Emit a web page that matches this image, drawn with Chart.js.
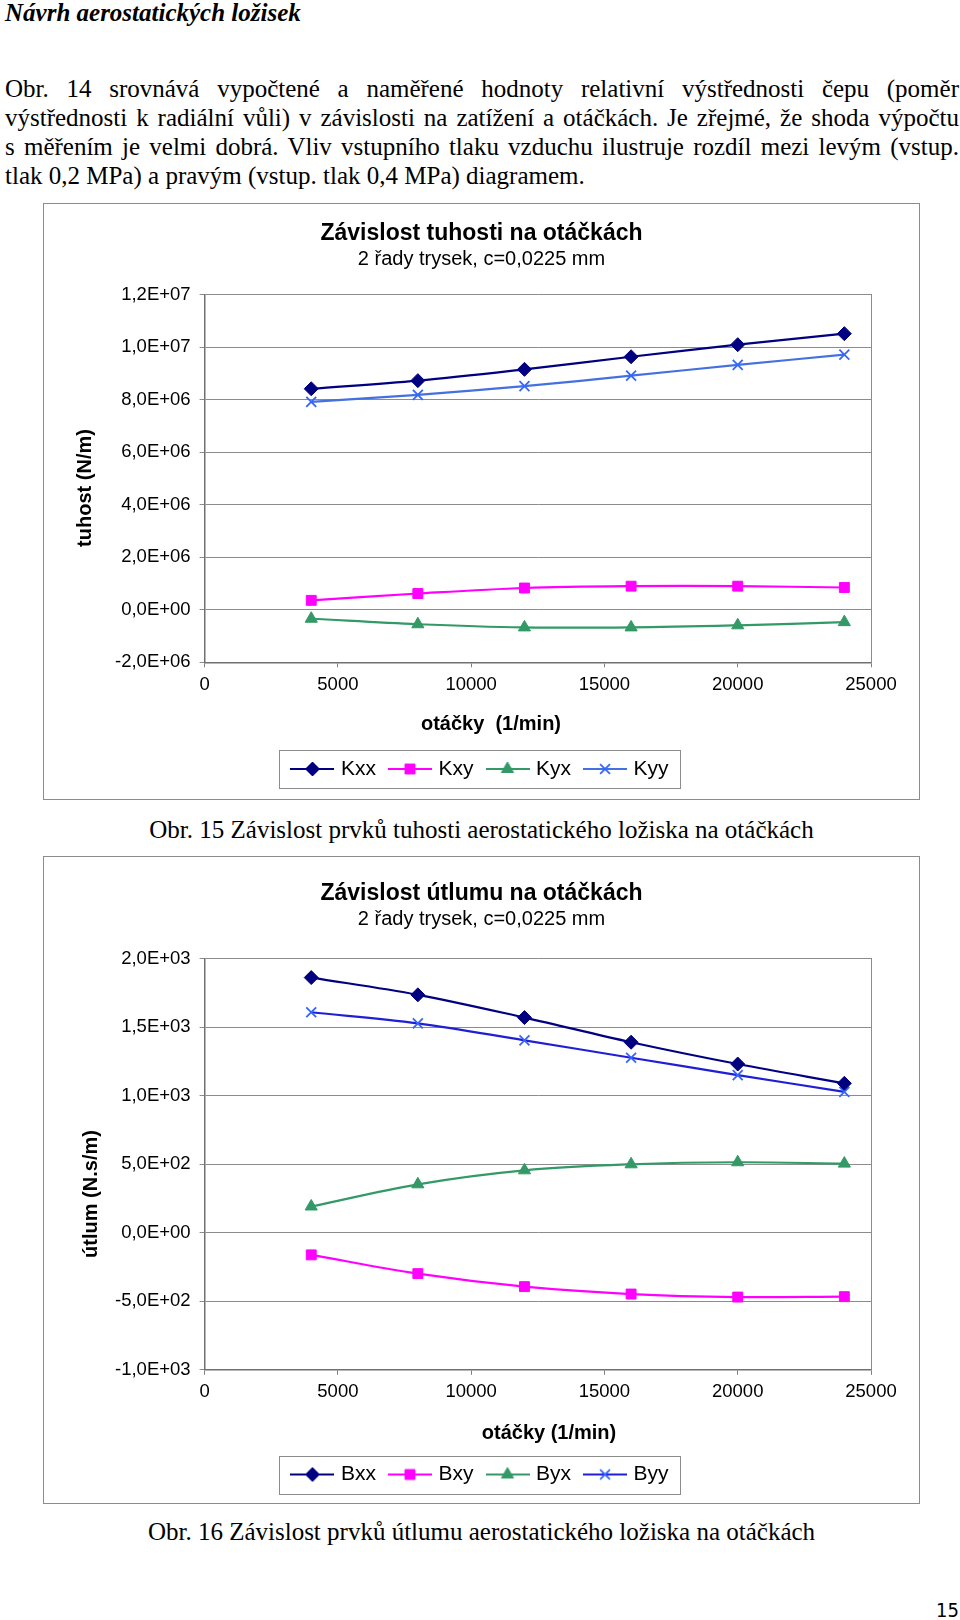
<!DOCTYPE html>
<html>
<head>
<meta charset="utf-8">
<title>Závislost tuhosti a útlumu na otáčkách</title>
<script src="https://cdn.jsdelivr.net/npm/chart.js"></script>
<style>
  body { margin: 0; width: 960px; height: 1620px; background: #fff; position: relative; overflow: hidden; }
  .serif { position: absolute; font-family: 'Liberation Serif', 'Times New Roman', serif; font-size: 25px; color: #000; }
  .line { left: 5px; width: 954px; line-height: 29px; text-align: justify; text-align-last: justify; }
  .caption { left: 43px; width: 877px; line-height: 29px; text-align: center; }
  .frame { position: absolute; border: 1px solid #8c8c8c; box-sizing: border-box; pointer-events: none; }
  .chart-container { position: absolute; }
</style>
</head>
<body>
  <div class="serif" style="left:5px; top:0px; line-height:25px; font-weight:bold; font-style:italic;">Návrh aerostatických ložisek</div>

  <div class="serif line" style="top:73.5px;">Obr. 14 srovnává vypočtené a naměřené hodnoty relativní výstřednosti čepu (poměr</div>
  <div class="serif line" style="top:102.5px;">výstřednosti k radiální vůli) v závislosti na zatížení a otáčkách. Je zřejmé, že shoda výpočtu</div>
  <div class="serif line" style="top:131.5px;">s měřením je velmi dobrá. Vliv vstupního tlaku vzduchu ilustruje rozdíl mezi levým (vstup.</div>
  <div class="serif line" style="top:160.5px; text-align-last:left;">tlak 0,2 MPa) a pravým (vstup. tlak 0,4 MPa) diagramem.</div>

  <div class="chart-container" style="left:43px; top:203px; width:877px; height:597px;">
    <canvas id="kChart"></canvas>
  </div>
  <div class="frame" style="left:43px; top:203px; width:877px; height:597px;"></div>
  <div class="serif caption" style="top:814.5px;">Obr. 15 Závislost prvků tuhosti aerostatického ložiska na otáčkách</div>

  <div class="chart-container" style="left:43px; top:856px; width:877px; height:648px;">
    <canvas id="bChart"></canvas>
  </div>
  <div class="frame" style="left:43px; top:856px; width:877px; height:648px;"></div>
  <div class="serif caption" style="top:1517px;">Obr. 16 Závislost prvků útlumu aerostatického ložiska na otáčkách</div>

  <div style="position:absolute; right:1px; top:1597px; font-family:'DejaVu Sans Condensed','Liberation Sans Narrow','Liberation Sans',sans-serif; font-size:20px; line-height:26px;">15</div>

<script type="text/javascript">

  // data
  var rpm = [4000, 8000, 12000, 16000, 20000, 24000];

  var kxx = [8.42e6, 8.73e6, 9.16e6, 9.64e6, 10.10e6, 10.52e6];
  var kxy = [0.36e6, 0.62e6, 0.83e6, 0.90e6, 0.90e6, 0.85e6];
  var kyx = [-0.34e6, -0.55e6, -0.67e6, -0.67e6, -0.59e6, -0.47e6];
  var kyy = [7.92e6, 8.19e6, 8.52e6, 8.92e6, 9.33e6, 9.72e6];

  var bxx = [1863, 1737, 1571, 1391, 1232, 1091];
  var bxy = [-161, -298, -393, -447, -469, -466];
  var byx = [192, 354, 456, 500, 515, 505];
  var byy = [1610, 1529, 1405, 1278, 1151, 1029];

  var kNames = ['Kxx', 'Kxy', 'Kyx', 'Kyy'];
  var bNames = ['Bxx', 'Bxy', 'Byx', 'Byy'];

  var xMin = 0, xMax = 25000, xStep = 5000;
  var kMin = -2e6, kMax = 1.2e7, kStep = 2e6;
  var bMin = -1000, bMax = 2000, bStep = 500;

  Chart.defaults.font.family = "'Liberation Sans', Arial, sans-serif";
  Chart.defaults.color = '#000';

  var markers = ['rectRot', 'rect', 'triangle', 'crossRot'];
  var markerSize = [7, 7, 7, 7];
  var fills = ['#000080', '#ff00ff', '#339966', '#3366ff'];

  // tick text like 1,2E+07
  function sci(v, step) {
    if (Math.abs(v) < step * 1e-6) return '0,0E+00';
    var e = Math.floor(Math.log10(Math.abs(v)) + 1e-9);
    var m = v / Math.pow(10, e);
    return m.toFixed(1).replace('.', ',') + 'E' + (e < 0 ? '-' : '+') + String(Math.abs(e)).padStart(2, '0');
  }

  function pairs(arr) {
    return arr.map(function (v, i) { return {x: rpm[i], y: v}; });
  }

  function makeSets(names, series, lineColors) {
    return series.map(function (s, i) {
      return {
        label: names[i],
        data: pairs(s),
        borderColor: lineColors[i],
        backgroundColor: fills[i],
        borderWidth: 2.2,
        pointStyle: markers[i],
        pointRadius: markerSize[i],
        pointHoverRadius: markerSize[i],
        pointBackgroundColor: fills[i],
        pointBorderColor: fills[i],
        pointBorderWidth: i == 3 ? 1.8 : 1,
        tension: 0.35
      };
    });
  }

  // small canvas used as legend symbol: line with marker
  function legendIcon(ds) {
    var c = document.createElement('canvas');
    c.width = 44; c.height = 20;
    var g = c.getContext('2d');
    g.strokeStyle = ds.borderColor;
    g.lineWidth = 2;
    g.beginPath(); g.moveTo(0, 10); g.lineTo(44, 10); g.stroke();
    g.fillStyle = ds.pointBackgroundColor;
    g.strokeStyle = ds.pointBorderColor;
    g.lineWidth = ds.pointBorderWidth;
    if (Chart.helpers && Chart.helpers.drawPoint) {
      Chart.helpers.drawPoint(g, {pointStyle: ds.pointStyle, radius: ds.pointRadius, borderWidth: ds.pointBorderWidth, rotation: 0}, 22, 10);
    } else {
      g.fillRect(17, 5, 10, 10);
    }
    return c;
  }

  function drawText(ctx, text, x, y, rot) {
    ctx.save();
    ctx.translate(x, y);
    ctx.rotate(rot);
    ctx.font = "bold 20px 'Liberation Sans', Arial, sans-serif";
    ctx.fillStyle = '#000';
    ctx.textAlign = 'center';
    ctx.textBaseline = 'middle';
    ctx.fillText(text, 0, 0);
    ctx.restore();
  }

  // legend frame + axis titles placed where the original has them
  var framePlugin = {
    id: 'frame',
    afterDraw: function (chart, args, opts) {
      var ctx = chart.ctx;
      var boxes = chart.legend ? chart.legend.legendHitBoxes : null;
      if (boxes && boxes.length) {
        var l = Math.min.apply(null, boxes.map(function (b) { return b.left; }));
        var r = Math.max.apply(null, boxes.map(function (b) { return b.left + b.width; }));
        var t = boxes[0].top, h = boxes[0].height;
        ctx.save();
        ctx.strokeStyle = '#8c8c8c';
        ctx.lineWidth = 1;
        ctx.strokeRect(Math.round(l - 15) + 0.5, Math.round(t - 8.5) + 0.5, Math.round(r - l + 27), Math.round(h + 17));
        ctx.restore();
      }
      if (opts.yTitle) drawText(ctx, opts.yTitle, opts.yTitleX, opts.yTitleY, -Math.PI / 2);
      if (opts.xTitle) drawText(ctx, opts.xTitle, opts.xTitleX, opts.xTitleY, 0);
    }
  };

  function makeOptions(cfg) {
    return {
      responsive: true,
      maintainAspectRatio: false,
      animation: false,
      events: [],
      layout: { padding: {left: 10, right: 10, top: 0, bottom: cfg.padBottom} },
      scales: {
        x: {
          type: 'linear', min: xMin, max: xMax,
          ticks: { stepSize: xStep, padding: 6.5, maxRotation: 0, font: {size: 18.5}, color: '#000',
                   callback: function (v) { return String(v); } },
          grid: { drawOnChartArea: false, drawTicks: true, tickLength: 5, color: '#808080' },
          border: { color: '#707070', width: 1.5 },
          afterFit: function (s) { s.height += cfg.xTitleSpace; }
        },
        y: {
          min: cfg.min, max: cfg.max,
          ticks: { stepSize: cfg.step, padding: 9, font: {size: 18.5}, color: '#000',
                   callback: function (v) { return sci(v, cfg.step); } },
          grid: { color: '#8c8c8c', drawTicks: true, tickLength: 5 },
          border: { color: '#707070', width: 1.5 },
          afterFit: function (s) { s.width = 151.6; }
        },
        y2: {
          position: 'right', min: 0, max: 1,
          ticks: { display: false },
          grid: { display: false },
          border: { display: true, color: '#8c8c8c', width: 1 },
          afterFit: function (s) { s.width = 39; }
        }
      },
      plugins: {
        title: { display: true, text: cfg.title, font: {size: 23, weight: 'bold'}, color: '#000',
                 padding: {top: cfg.titleTop, bottom: 0} },
        subtitle: { display: true, text: cfg.subtitle, font: {size: 20}, color: '#000',
                    padding: {top: 0, bottom: cfg.subBottom} },
        legend: {
          position: 'bottom',
          labels: {
            usePointStyle: true,
            pointStyleWidth: 36,
            padding: 16,
            font: {size: 21},
            color: '#000',
            generateLabels: function (chart) {
              return chart.data.datasets.map(function (ds, i) {
                return { text: ds.label, pointStyle: legendIcon(ds), fillStyle: ds.borderColor,
                         strokeStyle: ds.borderColor, lineWidth: 0, hidden: false, datasetIndex: i, fontColor: '#000' };
              });
            }
          }
        },
        tooltip: { enabled: false },
        frame: { yTitle: cfg.yTitle, yTitleX: cfg.yTitleX, yTitleY: cfg.yTitleY,
                 xTitle: cfg.xTitle, xTitleX: cfg.xTitleX, xTitleY: cfg.xTitleY }
      }
    };
  }

  var kChart = new Chart(document.getElementById('kChart'), {
    type: 'line',
    data: { datasets: makeSets(kNames, [kxx, kxy, kyx, kyy], ['#000080', '#ff00ff', '#339966', '#4470e0']) },
    options: makeOptions({
      min: kMin, max: kMax, step: kStep,
      title: 'Závislost tuhosti na otáčkách', subtitle: '2 řady trysek, c=0,0225 mm',
      titleTop: 16.7, subBottom: 23.5,
      xTitleSpace: 40, padBottom: 10.5,
      xTitle: 'otáčky  (1/min)', xTitleX: 448, xTitleY: 521,
      yTitle: 'tuhost (N/m)', yTitleX: 42, yTitleY: 285
    }),
    plugins: [framePlugin]
  });

  var bChart = new Chart(document.getElementById('bChart'), {
    type: 'line',
    data: { datasets: makeSets(bNames, [bxx, bxy, byx, byy], ['#000080', '#ff00ff', '#339966', '#1f1fd6']) },
    options: makeOptions({
      min: bMin, max: bMax, step: bStep,
      title: 'Závislost útlumu na otáčkách', subtitle: '2 řady trysek, c=0,0225 mm',
      titleTop: 24.2, subBottom: 27,
      xTitleSpace: 38, padBottom: 9,
      xTitle: 'otáčky (1/min)', xTitleX: 506, xTitleY: 577,
      yTitle: 'útlum (N.s/m)', yTitleX: 48, yTitleY: 338
    }),
    plugins: [framePlugin]
  });

</script>
</body>
</html>
